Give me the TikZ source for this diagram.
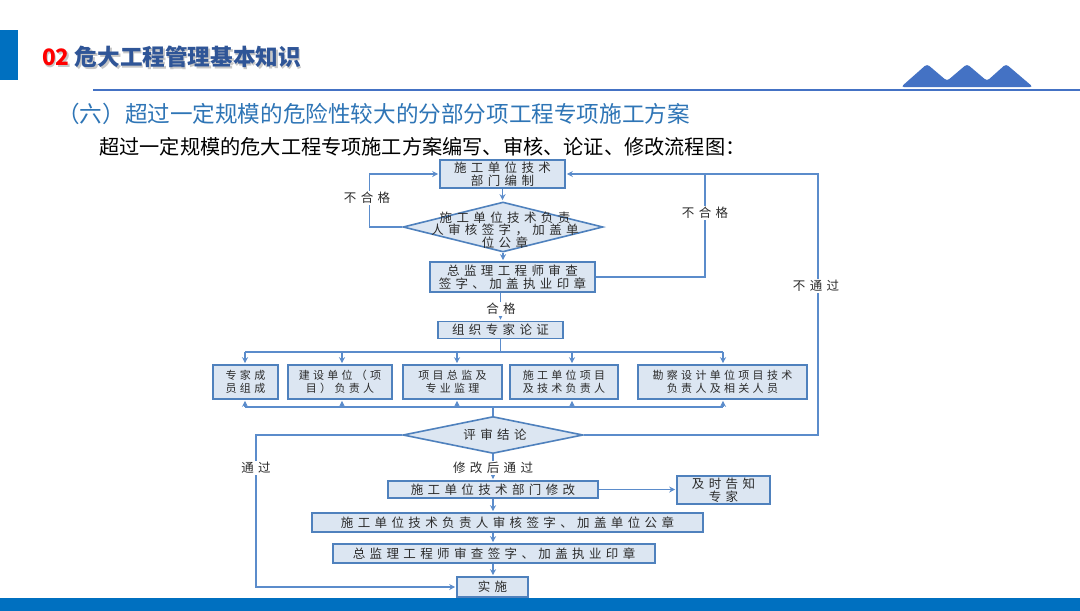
\documentclass[tikz,border=0pt]{standalone}
\usepackage{fontspec}
\usetikzlibrary{arrows.meta,shapes.geometric}
\newfontfamily\cjk{Noto Sans CJK SC}
\newfontfamily\cjkls[LetterSpace=35]{Noto Sans CJK SC}
\newfontfamily\cjklsb[LetterSpace=30]{Noto Sans CJK SC}
\newcommand\fcA{\cjkls\fontsize{12.5}{12.5}\selectfont}
\newcommand\fcB{\cjklsb\fontsize{11}{13}\selectfont}
\definecolor{barblue}{HTML}{0070C0}
\definecolor{titleblue}{HTML}{2F5597}
\definecolor{subblue}{HTML}{2E75B6}
\definecolor{hdr}{HTML}{4472C4}
\definecolor{boxb}{HTML}{4F81BD}
\definecolor{boxf}{HTML}{DCE6F2}
\definecolor{lnc}{HTML}{5B8CCB}
\definecolor{txt}{HTML}{2B2B2B}
\tikzset{
  ln/.style={draw=lnc, line width=1.3pt},
  arr/.style={ln, -{Stealth[length=6pt,width=6pt]}, shorten >=1pt},
  box/.style={draw=boxb, fill=boxf, line width=1.6pt, inner sep=0pt, align=center, font=\fcA, text=txt},
  sbox/.style={box, font=\fcB},
  dia/.style={shape=diamond, draw=boxb, fill=boxf, line width=1.6pt, inner sep=0pt},
  dtxt/.style={inner sep=0pt, align=center, font=\fcA, text=txt},
  lab/.style={fill=white, inner sep=1pt, font=\fcA, text=txt}
}
\begin{document}
\begin{tikzpicture}[x=1pt,y=-1pt]
\useasboundingbox (0,0) rectangle (1080,611);
\fill[white] (0,0) rectangle (1080,611);
% header
\fill[barblue] (0,30) rectangle (18,80);
\node[anchor=west, inner sep=0pt, text=black!22, font=\cjk\bfseries\fontsize{22.6}{24}\selectfont] (tsh) at (43.5,58.5) {02 危大工程管理基本知识};
\node[anchor=west, inner sep=0pt, font=\cjk\bfseries\fontsize{22.6}{24}\selectfont] (title) at (42,57) {\textcolor{red}{02} \textcolor{titleblue}{危大工程管理基本知识}};
\draw[hdr, line width=2pt] (93,90) -- (1080,90);
\fill[hdr, rounded corners=3pt] (901,87) -- (927,64) -- (947,81) -- (967,64) -- (987,81) -- (1006,64) -- (1033,87) -- cycle;
\node[anchor=west, inner sep=0pt, text=subblue, font=\cjk\fontsize{22.6}{24}\selectfont] (sub) at (57,114) {（六）超过一定规模的危险性较大的分部分项工程专项施工方案};
\node[anchor=west, inner sep=0pt, text=black, font=\cjk\fontsize{20.2}{22}\selectfont] (sub2) at (99,147) {超过一定规模的危大工程专项施工方案编写、审核、论证、修改流程图：};
% flowchart upper part
\node[box, minimum width=125, minimum height=28] (b1) at (502.5,174) {施工单位技术\\部门编制};
\node[dia, minimum width=200, minimum height=50] (d1) at (503,227) {};
\node[dtxt] (d1t) at (505,230) {施工单位技术负责\\人审核签字，加盖单\\位公章};
\node[box, minimum width=165, minimum height=30] (b3) at (512.5,277) {总监理工程师审查\\签字、加盖执业印章};
\node[box, minimum width=125, minimum height=17] (b4) at (500.5,330) {组织专家论证};
\draw[arr] (b1.south) -- (b1.south |- d1.north);
\draw[arr] (d1.south) -- (d1.south |- b3.north);
\draw[arr] (d1.west) -- ++(-33,0) |- (b1.west);
\node[lab] (l1) at (367,198) {不合格};
\coordinate (cR) at (818,174);
\coordinate (cM) at (705,174);
\draw[ln] (b3.east) -| (cM);
\node[lab] (l2) at (705,213) {不合格};
\draw[arr] (b4.north |- b3.south) -- (b4.north);
\node[lab] (l3) at (501,309) {合格};
% expert row
\node[sbox, minimum width=65, minimum height=34] (eA) at (245.5,382) {专家成\\员组成};
\node[sbox, minimum width=104, minimum height=34] (eB) at (340,382) {建设单位（项\\目）负责人};
\node[sbox, minimum width=99, minimum height=34] (eC) at (452.5,382) {项目总监及\\专业监理};
\node[sbox, minimum width=108, minimum height=34] (eD) at (564,382) {施工单位项目\\及技术负责人};
\node[sbox, minimum width=169, minimum height=34] (eE) at (722.5,382) {勘察设计单位项目技术\\负责人及相关人员};
\coordinate (bt) at (500.5,352);
\coordinate (tA) at (245,352);
\coordinate (tB) at (342,352);
\coordinate (tC) at (457,352);
\coordinate (tD) at (572,352);
\coordinate (tE) at (723,352);
\draw[ln] (b4.south) -- (bt);
\draw[ln] (tA) -- (tE);
\foreach \p/\q in {tA/eA,tB/eB,tC/eC,tD/eD,tE/eE} \draw[arr] (\p) -- (\p |- \q.north);
\coordinate (uA) at (245,407);
\coordinate (uB) at (342,407);
\coordinate (uC) at (457,407);
\coordinate (uD) at (572,407);
\coordinate (uE) at (723,407);
\draw[ln] (uA) -- (uE);
\foreach \p/\q in {uA/eA,uB/eB,uC/eC,uD/eD,uE/eE} \draw[arr] (\p) -- (\p |- \q.south);
% review
\node[dia, minimum width=180, minimum height=37] (d2) at (493,435) {};
\node[dtxt] (d2t) at (495,435) {评审结论};
\draw[ln] (d2.north |- uA) -- (d2.north);
\draw[arr] (d2.east) -| (cR) -- (b1.east);
\node[lab] (l4) at (816,286) {不通过};
% lower part
\node[box, minimum width=210, minimum height=17] (b5) at (493,489.5) {施工单位技术部门修改};
\node[box, minimum width=93, minimum height=28] (b6) at (723.5,490) {及时告知\\专家};
\node[box, minimum width=391, minimum height=19] (b7) at (507.5,522.5) {施工单位技术负责人审核签字、加盖单位公章};
\node[box, minimum width=322, minimum height=19] (b8) at (494,553.5) {总监理工程师审查签字、加盖执业印章};
\node[box, minimum width=71, minimum height=20] (b9) at (492.5,587) {实施};
\draw[arr] (d2.south) -- (b5.north);
\node[lab] (l5) at (493,468) {修改后通过};
\draw[arr] (b5.east) -- (b5.east -| b6.west);
\draw[arr] (b5.south) -- (b5.south |- b7.north);
\draw[arr] (b5.south |- b7.south) -- (b5.south |- b8.north);
\draw[arr] (b5.south |- b8.south) -- (b5.south |- b9.north);
\coordinate (cL) at (256,435);
\draw[arr] (d2.west) -- (cL) |- (b9.west);
\node[lab] (l6) at (256,468) {通过};
% bottom bar
\fill[barblue] (0,598) rectangle (1080,611);
\end{tikzpicture}
\end{document}
